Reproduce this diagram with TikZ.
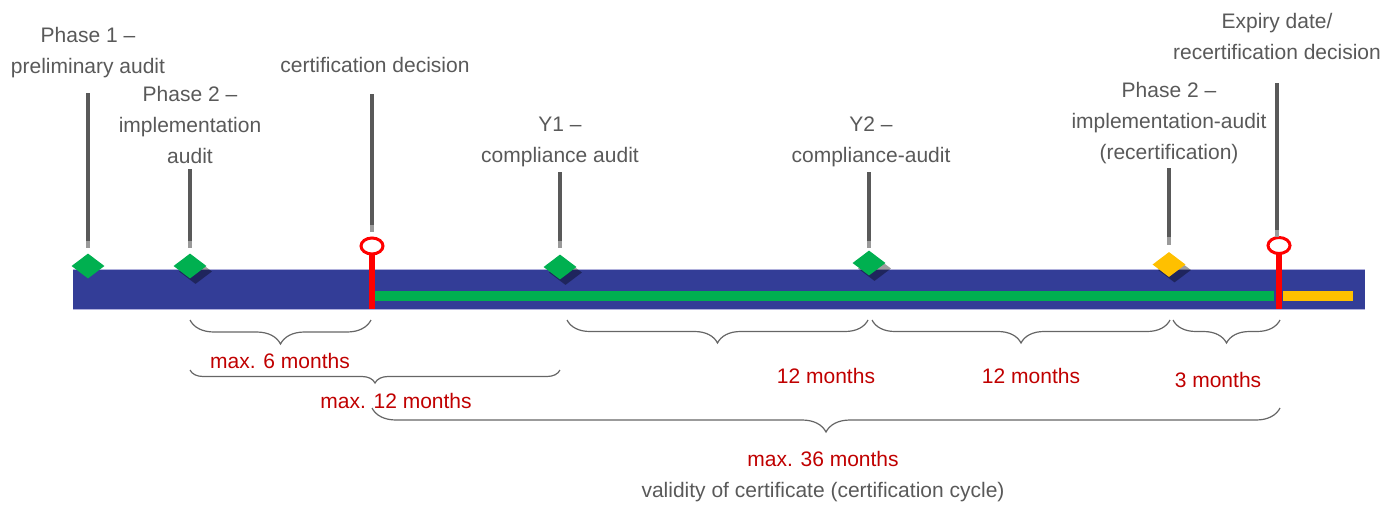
\documentclass[tikz,border=0pt]{standalone}
\usepackage{fontspec}
\setmainfont{Liberation Sans}
\usetikzlibrary{decorations.pathreplacing,shapes.geometric,shadows}
\definecolor{txtgray}{HTML}{595959}
\definecolor{durred}{HTML}{C00000}
\definecolor{barblue}{HTML}{333D97}
\definecolor{barline}{HTML}{B0B0DC}
\definecolor{msgreen}{HTML}{00B050}
\definecolor{msorange}{HTML}{FFC000}
\definecolor{leadgray}{HTML}{595959}
\definecolor{leadlight}{HTML}{9A9A9A}
\definecolor{bracegray}{HTML}{666666}
\begin{document}
\begin{tikzpicture}[x=1pt,y=-1pt,font=\fontsize{21}{31}\selectfont,
  lbl/.style={text=txtgray, align=center, anchor=base, inner sep=0},
  dur/.style={text=durred, anchor=base, inner sep=0},
  leader/.style={draw=leadgray, line width=4},
  leadend/.style={draw=leadlight, line width=4},
  ms/.style={diamond, fill=msgreen, minimum width=33, minimum height=25, inner sep=0},
  shd/.style={drop shadow={shadow xshift=5.5pt, shadow yshift=-5.5pt, fill=black, opacity=.38}},
  pinline/.style={draw=red, line width=6},
  pinhead/.style={draw=red, line width=3, fill=white},
  span/.style={draw=bracegray, line width=1.2, decorate, decoration={brace, mirror, amplitude=#1}}]
\useasboundingbox (0,0) rectangle (1399,504);
% time bar
\fill[barblue] (73,269) rectangle (1365,309);
\draw[barline, line width=1] (73,269) -- (1365,269) (73,309) -- (1365,309);
\fill[msgreen] (373,291) rectangle (1274,301);
\fill[msorange] (1283,291) rectangle (1353,301);
% milestones
\node[ms] (d1) at (88,266) {};
\node[ms, shd] (d2) at (190,266) {};
\node[ms, shd] (dy1) at (560,267) {};
\node[ms, shd] (dy2) at (869,263) {};
\node[ms, shd, fill=msorange] (drc) at (1169,264.5) {};
% decisions
\coordinate (cdp) at (372,246);
\coordinate (exp) at (1279,245.5);
\draw[pinline] (cdp) ++(0,8) -- (372,309);
\draw[pinline] (exp) ++(0,8) -- (1279,309);
\draw[pinhead] (cdp) ellipse [x radius=11, y radius=8];
\draw[pinhead] (exp) ellipse [x radius=11, y radius=8];
% labels (base = last line)
\node[lbl] (p1) at (88,73) {Phase 1 –\\preliminary audit};
\node[lbl] (p2) at (190,163) {Phase 2 –\\implementation\\audit};
\node[lbl] (cd) at (375,72) {certification decision};
\node[lbl] (y1) at (560,162) {Y1 –\\compliance audit};
\node[lbl] (y2) at (871,162) {Y2 –\\compliance-audit};
\node[lbl] (rc) at (1169,159) {Phase 2 –\\implementation-audit\\(recertification)};
\node[lbl] (ex) at (1277,59) {Expiry date/\\recertification decision};
% leader lines
\draw[leader] (d1 |- 0,93) -- (d1 |- 0,241);
\draw[leadend] (d1 |- 0,241) -- (d1 |- 0,248);
\draw[leader] (d2 |- 0,169) -- (d2 |- 0,241);
\draw[leadend] (d2 |- 0,241) -- (d2 |- 0,248);
\draw[leader] (cdp |- 0,94) -- (cdp |- 0,225);
\draw[leadend] (cdp |- 0,225) -- (cdp |- 0,232);
\draw[leader] (dy1 |- 0,172) -- (dy1 |- 0,241);
\draw[leadend] (dy1 |- 0,241) -- (dy1 |- 0,248);
\draw[leader] (dy2 |- 0,172) -- (dy2 |- 0,241);
\draw[leadend] (dy2 |- 0,241) -- (dy2 |- 0,248);
\draw[leader] (drc |- 0,168) -- (drc |- 0,237);
\draw[leadend] (drc |- 0,237) -- (drc |- 0,245);
\draw[leader] (1277,83) -- (1277,230);
\draw[leadend] (1277,230) -- (1277,237);
% durations
\draw[span=24] (190,320) -- (371,320);
\draw[span=13] (190,370) -- (560,370);
\draw[span=23] (567,320) -- (868,320);
\draw[span=23] (872,320) -- (1170,320);
\draw[span=23] (1173,320) -- (1280,320);
\draw[span=24] (372,408) -- (1280,408);
\node[dur] (m6) at (280,368) {max. 6 months};
\node[dur] (m12) at (396,408) {max. 12 months};
\node[dur] (t1) at (826,383) {12 months};
\node[dur] (t2) at (1031,383) {12 months};
\node[dur] (t3) at (1218,387) {3 months};
\node[dur] (m36) at (823,466) {max. 36 months};
\node[lbl] (val) at (823,497) {validity of certificate (certification cycle)};
\end{tikzpicture}
\end{document}
